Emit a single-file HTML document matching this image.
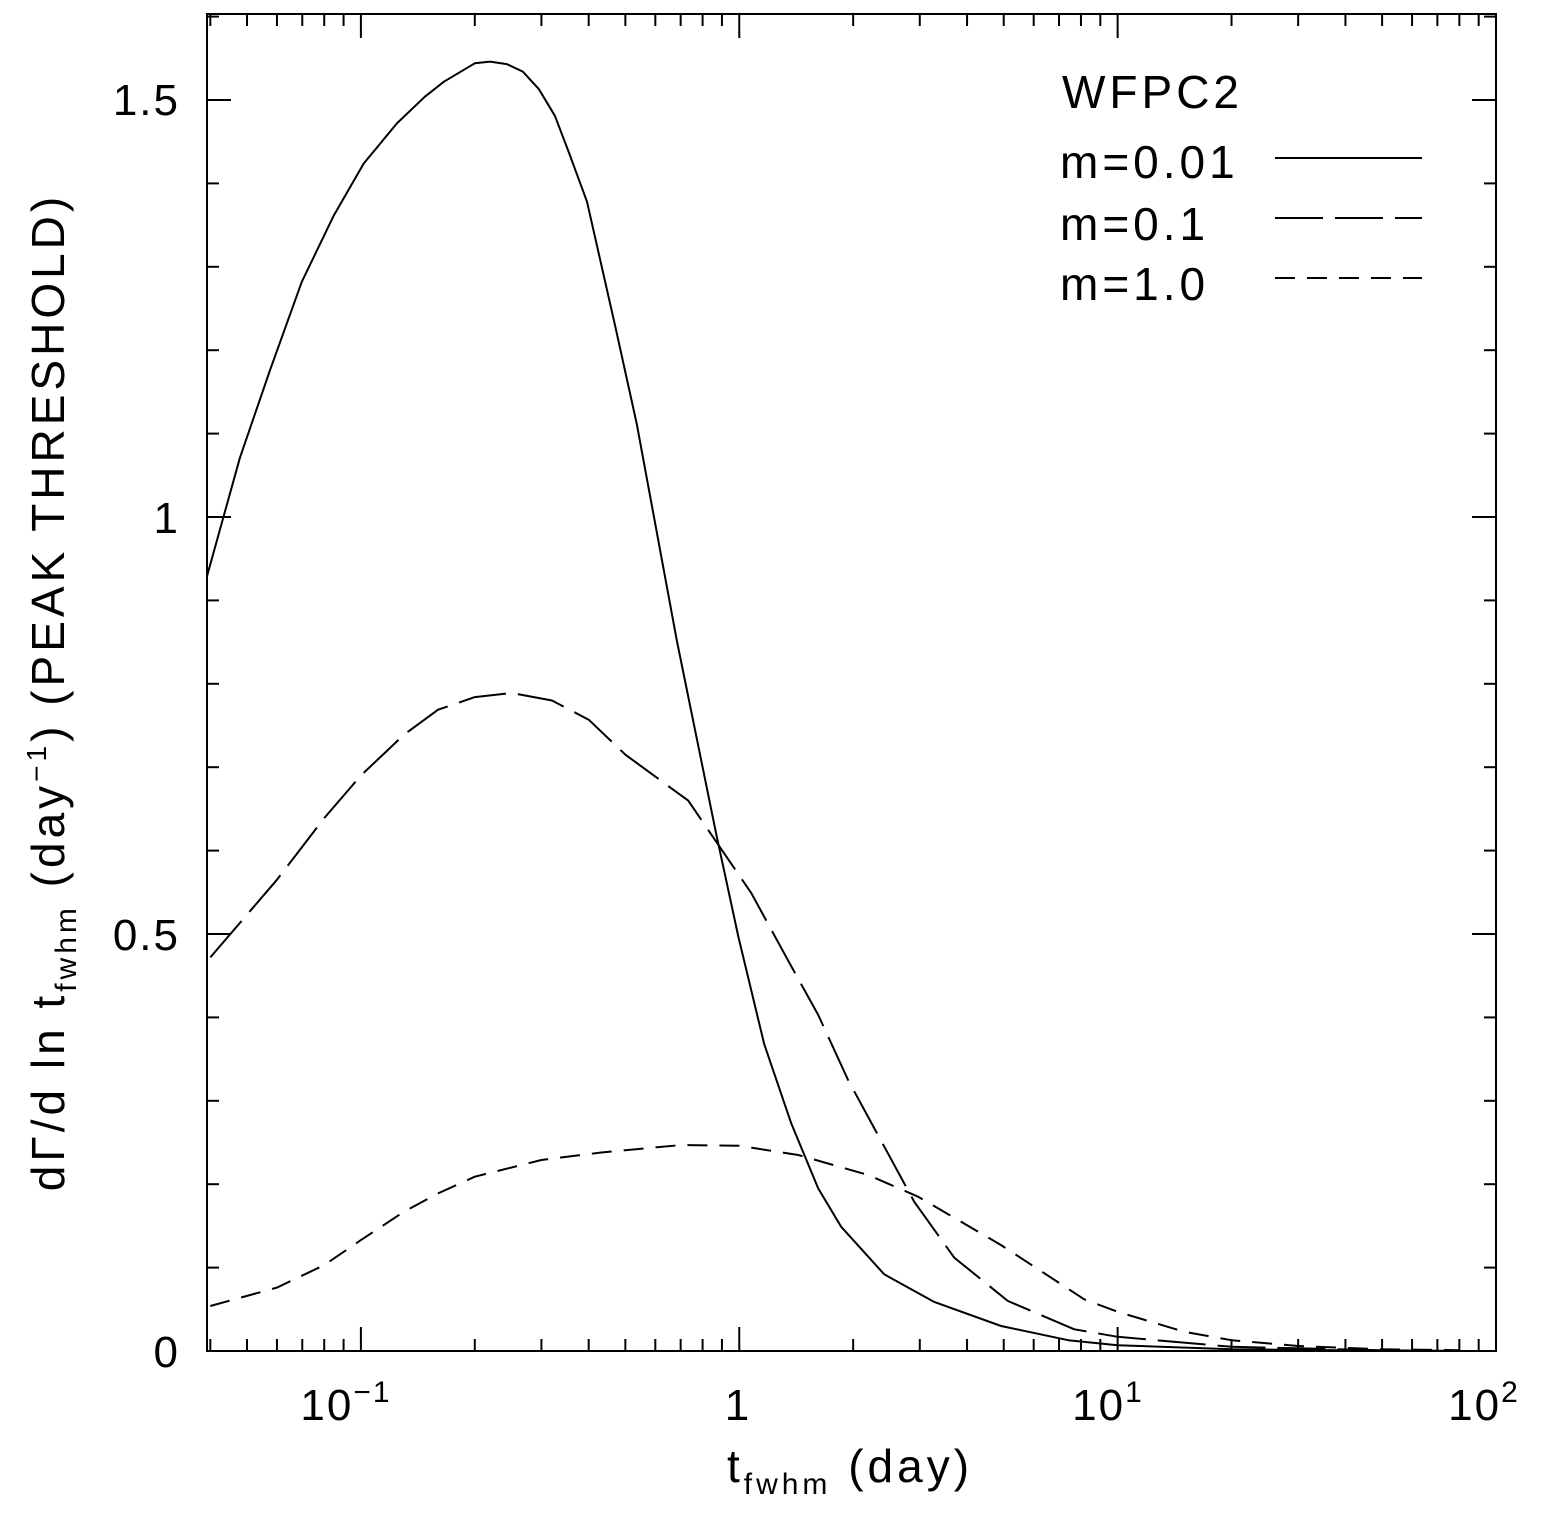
<!DOCTYPE html>
<html><head><meta charset="utf-8"><style>
html,body{margin:0;padding:0;background:#fff;}
svg text{font-family:"Liberation Sans","DejaVu Sans",sans-serif;fill:#000;}
</style></head><body>
<svg id="chart" width="1547" height="1514" viewBox="0 0 1547 1514" xmlns="http://www.w3.org/2000/svg">
<rect x="0" y="0" width="1547" height="1514" fill="#fff"/>
<g id="ticks"></g>
<g id="curves"></g>
<rect x="207" y="14" width="1289" height="1337" fill="none" stroke="#000" stroke-width="2"/>
<g font-size="44" text-anchor="middle" letter-spacing="2">
<text x="346" y="1420">10<tspan dy="-18" font-size="30">−1</tspan></text>
<text x="738" y="1420">1</text>
<text x="1108" y="1420">10<tspan dy="-18" font-size="30">1</tspan></text>
<text x="1484" y="1420">10<tspan dy="-18" font-size="30">2</tspan></text>
</g>
<g font-size="44" text-anchor="end" letter-spacing="2">
<text x="180" y="1367">0</text>
<text x="180" y="950">0.5</text>
<text x="180" y="533">1</text>
<text x="180" y="115">1.5</text>
</g>
<text x="850" y="1482" font-size="46" letter-spacing="4" text-anchor="middle">t<tspan dy="12" font-size="30">fwhm</tspan><tspan dy="-12"> (day)</tspan></text>
<text transform="translate(64,692) rotate(-90)" font-size="46" letter-spacing="4" text-anchor="middle">dΓ/d ln t<tspan dy="12" font-size="30">fwhm</tspan><tspan dy="-12"> (day</tspan><tspan dy="-18" font-size="28">−1</tspan><tspan dy="18">) (PEAK THRESHOLD)</tspan></text>
<g font-size="46" letter-spacing="4">
<text x="1062" y="108">WFPC2</text>
<text x="1060" y="178">m=0.01</text>
<line x1="1275" y1="158" x2="1422" y2="158" stroke="#000" stroke-width="2"/>
<text x="1060" y="240">m=0.1</text>
<line x1="1275" y1="218" x2="1422" y2="218" stroke="#000" stroke-width="2" stroke-dasharray="48 12"/>
<text x="1060" y="300">m=1.0</text>
<line x1="1275" y1="278" x2="1422" y2="278" stroke="#000" stroke-width="2" stroke-dasharray="20 12"/>
</g>
</svg>
<script>
const tSolid = [0.0392,0.0479,0.0575,0.0698,0.0849,0.1018,0.1245,0.1476,0.1657,0.2,0.2192,0.243,0.2679,0.2955,0.3257,0.3546,0.3959,0.469,0.5357,0.6837,0.869,0.994,1.164,1.372,1.617,1.859,2.416,3.27,4.92,7.4,10,20,50,80];
const vSolid = [0.929,1.071,1.176,1.282,1.362,1.424,1.472,1.504,1.522,1.544,1.546,1.543,1.534,1.513,1.481,1.437,1.378,1.231,1.112,0.852,0.62,0.497,0.368,0.273,0.195,0.149,0.092,0.059,0.03,0.013,0.007,0.002,0.0005,0];
const tLong = [0.04,0.06,0.08,0.1,0.13,0.16,0.2,0.25,0.32,0.4,0.5,0.733,1.076,1.347,1.617,1.939,2.37,2.9,3.7,5.13,7.68,10,20,50,80];
const vLong = [0.472,0.565,0.639,0.69,0.739,0.769,0.784,0.789,0.78,0.757,0.715,0.66,0.549,0.468,0.403,0.325,0.252,0.179,0.112,0.06,0.026,0.017,0.005,0.001,0];
const tShort = [0.04,0.06,0.08,0.1,0.13,0.16,0.2,0.3,0.432,0.703,1.0,1.432,2.192,2.97,4.92,8.16,10,15,20,30,50,80];
const vShort = [0.054,0.076,0.103,0.133,0.167,0.189,0.209,0.229,0.238,0.247,0.246,0.235,0.211,0.185,0.127,0.062,0.047,0.023,0.013,0.006,0.002,0.001];

const X0=207,X1=1496,Y0=1351,Y1=14;
const LX0=Math.log10(0.0392), LX1=2;
function xs(t){return X0+(Math.log10(t)-LX0)/(LX1-LX0)*(X1-X0);}
function ys(v){return Y0-v*834;}
const NS="http://www.w3.org/2000/svg";
const ticks=document.getElementById('ticks');
function line(x1,y1,x2,y2){
  const l=document.createElementNS(NS,'line');
  l.setAttribute('x1',x1);l.setAttribute('y1',y1);l.setAttribute('x2',x2);l.setAttribute('y2',y2);
  l.setAttribute('stroke','#000');l.setAttribute('stroke-width','2');
  
  
  ticks.appendChild(l);
}
for(let e=-2;e<=2;e++){
  for(let m=1;m<=9;m++){
    const t=m*Math.pow(10,e);
    if(t<0.0392||t>100)continue;
    const x=xs(t),len=(m===1)?24:12;
    line(x,Y0,x,Y0-len);line(x,Y1,x,Y1+len);
  }
}
for(let i=0;i<=16;i++){
  const v=i/10;const y=ys(v);
  const len=(i%5===0)?24:12;
  line(X0,y,X0+len,y);line(X1,y,X1-len,y);
}
const curves=document.getElementById('curves');
function curve(ts,vs,dash,name){
  const p=document.createElementNS(NS,'path');
  p.setAttribute('d',ts.map((t,i)=>(i?'L':'M')+xs(t).toFixed(1)+' '+ys(vs[i]).toFixed(1)).join(' '));
  p.setAttribute('fill','none');p.setAttribute('stroke','#000');p.setAttribute('stroke-width','2');
  p.setAttribute('stroke-linejoin','round');
  if(dash)p.setAttribute('stroke-dasharray',dash);
  
  
  curves.appendChild(p);
}
curve(tSolid,vSolid,null,'curve-m001');
curve(tLong,vLong,'48 12','curve-m01');
curve(tShort,vShort,'20 12','curve-m1');
</script>
</body></html>
